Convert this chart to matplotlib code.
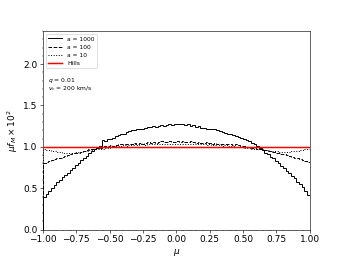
import matplotlib
matplotlib.use("Agg")
import matplotlib.pyplot as plt
import numpy as np

# mu bin edges: 100 bins between -1 and 1
edges = np.linspace(-1.0, 1.0, 101)

# a = 1000
f_1000 = [0.40, 0.43, 0.47, 0.50, 0.54, 0.57, 0.60, 0.63, 0.66, 0.69,
          0.72, 0.75, 0.78, 0.81, 0.84, 0.87, 0.89, 0.92, 0.95, 0.97,
          0.99, 1.01, 1.08, 1.07, 1.09, 1.10, 1.11, 1.13, 1.14, 1.15,
          1.16, 1.18, 1.19, 1.20, 1.20, 1.21, 1.22, 1.22, 1.23, 1.24,
          1.24, 1.25, 1.24, 1.25, 1.26, 1.25, 1.26, 1.27, 1.26, 1.27,
          1.28, 1.27, 1.28, 1.26, 1.27, 1.25, 1.26, 1.24, 1.25, 1.23,
          1.23, 1.22, 1.22, 1.21, 1.21, 1.20, 1.19, 1.18, 1.17, 1.15,
          1.15, 1.14, 1.13, 1.12, 1.11, 1.10, 1.08, 1.07, 1.05, 1.03,
          1.01, 0.99, 0.96, 0.93, 0.91, 0.88, 0.86, 0.83, 0.80, 0.77,
          0.74, 0.71, 0.68, 0.65, 0.62, 0.58, 0.55, 0.51, 0.47, 0.42]

# a = 100
f_100 = [0.80, 0.82, 0.83, 0.84, 0.85, 0.86, 0.87, 0.88, 0.89, 0.90,
         0.91, 0.92, 0.93, 0.93, 0.94, 0.95, 0.96, 0.97, 0.97, 0.98,
         0.99, 0.99, 1.00, 1.01, 1.01, 1.02, 1.01, 1.02, 1.03, 1.03,
         1.03, 1.04, 1.03, 1.04, 1.05, 1.04, 1.05, 1.04, 1.05, 1.06,
         1.05, 1.06, 1.05, 1.06, 1.07, 1.06, 1.06, 1.07, 1.06, 1.06,
         1.07, 1.06, 1.07, 1.06, 1.06, 1.07, 1.06, 1.05, 1.06, 1.05,
         1.05, 1.06, 1.05, 1.04, 1.05, 1.04, 1.04, 1.03, 1.04, 1.03,
         1.03, 1.02, 1.03, 1.02, 1.01, 1.01, 1.00, 1.00, 0.99, 0.99,
         0.98, 0.97, 0.97, 0.96, 0.95, 0.95, 0.94, 0.93, 0.92, 0.91,
         0.91, 0.90, 0.89, 0.88, 0.87, 0.86, 0.85, 0.84, 0.83, 0.82]

# a = 10
f_10 = [0.97, 0.96, 0.96, 0.95, 0.95, 0.94, 0.94, 0.93, 0.93, 0.93,
        0.93, 0.93, 0.94, 0.94, 0.94, 0.95, 0.95, 0.96, 0.96, 0.97,
        0.97, 0.98, 0.98, 0.99, 0.99, 1.00, 1.00, 1.01, 1.01, 1.01,
        1.02, 1.01, 1.02, 1.02, 1.03, 1.02, 1.03, 1.03, 1.02, 1.03,
        1.04, 1.03, 1.03, 1.04, 1.03, 1.04, 1.04, 1.03, 1.04, 1.04,
        1.04, 1.03, 1.04, 1.04, 1.03, 1.04, 1.03, 1.03, 1.04, 1.03,
        1.03, 1.02, 1.03, 1.02, 1.02, 1.03, 1.02, 1.01, 1.02, 1.01,
        1.01, 1.01, 1.00, 1.00, 1.00, 0.99, 0.99, 0.99, 0.98, 0.98,
        0.97, 0.97, 0.96, 0.96, 0.96, 0.95, 0.95, 0.95, 0.94, 0.94,
        0.94, 0.94, 0.94, 0.95, 0.95, 0.95, 0.96, 0.96, 0.97, 0.98]

hills = 1.0

fig, ax = plt.subplots(figsize=(6.4, 4.8), dpi=53.75)

ax.stairs(f_1000, edges, color="black", linestyle="-", lw=1.3, baseline=0, label="a = 1000")
ax.stairs(f_100, edges, color="black", linestyle="--", lw=1.3, baseline=0, label="a = 100")
ax.stairs(f_10, edges, color="black", linestyle=":", lw=1.3, baseline=0, label="a = 10")
ax.axhline(hills, color="red", lw=2, label="Hills", zorder=3)

ax.set_xlim(-1, 1)
ax.set_ylim(0, 2.4)
ax.set_xticks(np.arange(-1.0, 1.01, 0.25))
ax.set_yticks(np.arange(0.0, 2.01, 0.5))
ax.minorticks_on()
ax.tick_params(labelsize=12)

ax.set_xlabel(r"$\mu$", fontsize=12)
ax.set_ylabel(r"$\mu f_M \times 10^2$", fontsize=12)

ax.legend(loc="upper left", fontsize=8, handlelength=2.3)
ax.text(0.02, 0.75, r"$q$ = 0.01", transform=ax.transAxes, fontsize=8, va="center")
ax.text(0.02, 0.71, r"$v_c$ = 200 km/s", transform=ax.transAxes, fontsize=8, va="center")

fig.savefig("out.png", dpi=53.75)
